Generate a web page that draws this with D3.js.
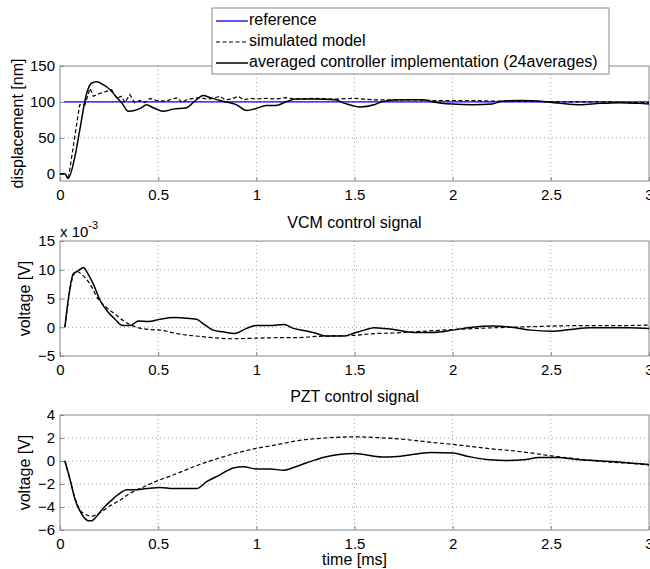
<!DOCTYPE html>
<html>
<head>
<meta charset="utf-8">
<script src="https://cdn.jsdelivr.net/npm/d3@7"></script>
<style>
  body { margin: 0; background: #fff; }
  text { font-family: "Liberation Sans", Arial, sans-serif; fill: #000; }
</style>
</head>
<body>
<div id="my_dataviz"></div>
<script>
// data, time in ms
const timeTicks = [0, 0.5, 1, 1.5, 2, 2.5, 3];
const dispTicks = [0, 50, 100, 150];
const vcmTicks = [-5, 0, 5, 10, 15];
const pztTicks = [-6, -4, -2, 0, 2, 4];

const legendLabels = ["reference", "simulated model", "averaged controller implementation (24averages)"];

const dispRef = [[0.02, 100], [3, 100]];
const dispSim = [[0, 0], [0.025, 0], [0.042, -8], [0.1, 96], [0.127, 96], [0.153, 119], [0.17, 108],
  [0.204, 112], [0.263, 117], [0.29, 105], [0.314, 108], [0.33, 99], [0.356, 110], [0.38, 99],
  [0.407, 102], [0.433, 99], [0.458, 105], [0.49, 102], [0.535, 101], [0.586, 105], [0.6, 106],
  [0.62, 99], [0.645, 103], [0.68, 105], [0.713, 106], [0.747, 104], [0.78, 105], [0.815, 108],
  [0.84, 103], [0.874, 104], [0.908, 108], [0.934, 103], [0.97, 105], [1.0, 104], [1.05, 105],
  [1.1, 104], [1.15, 106], [1.2, 104], [1.3, 105], [1.4, 104], [1.5, 105], [1.55, 104], [1.6, 103],
  [1.7, 103], [1.8, 103], [1.9, 102], [2.0, 102], [2.1, 102], [2.2, 101], [2.3, 101], [2.4, 101],
  [2.5, 100], [2.6, 100], [2.7, 100], [2.8, 100], [2.9, 99], [3.0, 99]];
const dispMeas = [[0, 0], [0.025, 0], [0.042, -6], [0.076, 24], [0.1, 60], [0.136, 112], [0.16, 126],
  [0.187, 128], [0.22, 124], [0.255, 117], [0.29, 106], [0.314, 99], [0.348, 87], [0.38, 88],
  [0.416, 92], [0.44, 96], [0.475, 92], [0.526, 87], [0.577, 90], [0.645, 92], [0.69, 102],
  [0.73, 109], [0.764, 106], [0.83, 101], [0.9, 96], [0.95, 88], [1.0, 91], [1.05, 95], [1.1, 95],
  [1.15, 100], [1.2, 104], [1.3, 104], [1.4, 103], [1.45, 98], [1.53, 93], [1.6, 96], [1.65, 101],
  [1.75, 103], [1.85, 103], [1.9, 100], [2.0, 97], [2.1, 96], [2.2, 97], [2.25, 101], [2.35, 102],
  [2.45, 101], [2.55, 98], [2.65, 96], [2.75, 98], [2.85, 99], [2.95, 98], [3.0, 97]];

// VCM signal, units of 1e-3 V
const vcmSim = [[0.025, 0], [0.068, 9], [0.085, 9.7], [0.11, 9.2], [0.153, 7.5], [0.195, 4.9],
  [0.238, 3.4], [0.28, 2.3], [0.32, 1.2], [0.39, 0], [0.46, -0.4], [0.51, -0.5], [0.594, -1.1],
  [0.713, -1.6], [0.88, -2.0], [1.0, -1.9], [1.14, -1.8], [1.22, -1.8], [1.3, -1.6], [1.4, -1.5],
  [1.5, -1.4], [1.6, -1.1], [1.7, -1.0], [1.8, -0.8], [1.9, -0.6], [2.0, -0.4], [2.2, -0.1],
  [2.4, 0.1], [2.5, 0.2], [2.7, 0.3], [2.9, 0.3], [3.0, 0.4]];
const vcmMeas = [[0.025, 0], [0.068, 9.3], [0.093, 9.8], [0.119, 10.4], [0.144, 9.2], [0.17, 7.5],
  [0.204, 4.7], [0.238, 2.9], [0.28, 1.4], [0.32, 0.3], [0.357, 0.3], [0.4, 1.1], [0.45, 1.0],
  [0.51, 1.4], [0.577, 1.7], [0.628, 1.6], [0.696, 1.4], [0.73, 0.6], [0.78, -0.5], [0.83, -0.8],
  [0.89, -1.1], [0.95, -0.2], [1.0, 0.3], [1.07, 0.3], [1.14, 0.5], [1.19, -0.2], [1.25, -0.6],
  [1.3, -1.0], [1.35, -1.5], [1.45, -1.5], [1.5, -1.0], [1.55, -0.5], [1.6, -0.1], [1.65, -0.2],
  [1.7, -0.4], [1.8, -0.9], [1.9, -0.9], [2.0, -0.5], [2.1, 0.0], [2.2, 0.2], [2.3, 0.0],
  [2.4, -0.5], [2.5, -0.7], [2.6, -0.4], [2.7, -0.1], [2.8, -0.1], [2.9, -0.1], [3.0, -0.2]];

const pztSim = [[0.025, 0], [0.051, -1.6], [0.076, -3.2], [0.1, -4.2], [0.136, -4.7], [0.16, -4.8],
  [0.204, -4.5], [0.255, -3.9], [0.306, -3.4], [0.357, -2.8], [0.407, -2.4], [0.5, -1.7],
  [0.594, -1.1], [0.696, -0.4], [0.8, 0.2], [0.9, 0.7], [1.0, 1.1], [1.1, 1.4], [1.22, 1.8],
  [1.35, 2.0], [1.5, 2.1], [1.6, 2.05], [1.7, 1.95], [1.8, 1.8], [1.9, 1.6], [2.0, 1.45],
  [2.1, 1.25], [2.2, 1.05], [2.3, 0.9], [2.4, 0.7], [2.5, 0.45], [2.6, 0.25], [2.7, 0.05],
  [2.8, -0.1], [2.9, -0.2], [3.0, -0.35]];
const pztMeas = [[0.025, 0], [0.051, -1.6], [0.076, -3.3], [0.1, -4.3], [0.127, -5.0], [0.144, -5.2],
  [0.16, -5.2], [0.187, -4.8], [0.22, -4.1], [0.263, -3.4], [0.306, -2.8], [0.34, -2.5],
  [0.39, -2.5], [0.44, -2.4], [0.51, -2.3], [0.577, -2.4], [0.628, -2.4], [0.696, -2.4],
  [0.747, -1.8], [0.815, -1.2], [0.883, -0.6], [0.934, -0.5], [1.0, -0.7], [1.07, -0.7],
  [1.14, -0.8], [1.2, -0.5], [1.25, -0.2], [1.34, 0.3], [1.5, 0.65], [1.64, 0.35], [1.72, 0.4],
  [1.89, 0.75], [2.0, 0.7], [2.08, 0.4], [2.19, 0.1], [2.27, 0.05], [2.36, 0.1], [2.44, 0.3],
  [2.53, 0.3], [2.65, 0.1], [2.76, 0.0], [2.86, -0.1], [3.0, -0.3]];

const W = 650, H = 569;
const left = 60, right = 649;

const svg = d3.select("#my_dataviz")
    .append("svg")
    .attr("width", W)
    .attr("height", H);

const x = d3.scaleLinear().domain([0, 3]).range([left, right]);

const panels = [
  { top: 66, bottom: 181, domain: [-10, 150], ticks: dispTicks, ylabel: "displacement [nm]", labelX: 19,
    series: [{ d: dispRef, color: "#0000ff", dash: null, w: 1.3, curve: d3.curveLinear },
             { d: dispSim, color: "#000", dash: "4,2.5", w: 1.2, curve: d3.curveLinear },
             { d: dispMeas, color: "#000", dash: null, w: 1.5, curve: d3.curveMonotoneX }] },
  { top: 241, bottom: 356, domain: [-5, 15], ticks: vcmTicks, ylabel: "voltage [V]", labelX: 26,
    title: "VCM control signal",
    series: [{ d: vcmSim, color: "#000", dash: "4,2.5", w: 1.2, curve: d3.curveMonotoneX },
             { d: vcmMeas, color: "#000", dash: null, w: 1.5, curve: d3.curveMonotoneX }] },
  { top: 415, bottom: 530, domain: [-6, 4], ticks: pztTicks, ylabel: "voltage [V]", labelX: 26,
    title: "PZT control signal",
    series: [{ d: pztSim, color: "#000", dash: "4,2.5", w: 1.2, curve: d3.curveMonotoneX },
             { d: pztMeas, color: "#000", dash: null, w: 1.5, curve: d3.curveMonotoneX }] }
];

panels.forEach(function (p, i) {
  const y = d3.scaleLinear().domain(p.domain).range([p.bottom, p.top]);
  const g = svg.append("g");

  // grid
  g.append("g")
    .selectAll("line")
    .data(timeTicks.slice(1, -1))
    .join("line")
    .attr("x1", d => x(d)).attr("x2", d => x(d))
    .attr("y1", p.top).attr("y2", p.bottom)
    .attr("stroke", "#a0a0a0").attr("stroke-dasharray", "1,3");
  g.append("g")
    .selectAll("line")
    .data(p.ticks.slice(1, -1))
    .join("line")
    .attr("x1", left).attr("x2", right)
    .attr("y1", d => y(d)).attr("y2", d => y(d))
    .attr("stroke", "#a0a0a0").attr("stroke-dasharray", "1,3");

  // axes with inward ticks
  const xa = g.append("g")
    .attr("transform", `translate(0, ${p.bottom})`)
    .call(d3.axisBottom(x).tickValues(timeTicks).tickSize(-4).tickPadding(8).tickFormat(d3.format("")));
  const ya = g.append("g")
    .attr("transform", `translate(${left}, 0)`)
    .call(d3.axisLeft(y).tickValues(p.ticks).tickSize(-4).tickPadding(5));
  [xa, ya].forEach(a => {
    a.select(".domain").remove();
    a.selectAll("line").attr("stroke", "#888");
    a.selectAll("text").style("font-size", "15px").attr("fill", "#000");
  });

  // box
  g.append("rect")
    .attr("x", left).attr("y", p.top)
    .attr("width", right - left).attr("height", p.bottom - p.top)
    .attr("fill", "none").attr("stroke", "#888").attr("stroke-width", 1);

  // lines
  const clipId = "clip" + i;
  svg.append("clipPath").attr("id", clipId)
    .append("rect").attr("x", left).attr("y", p.top)
    .attr("width", right - left).attr("height", p.bottom - p.top);

  p.series.forEach(function (s) {
    g.append("path")
      .datum(s.d)
      .attr("clip-path", `url(#${clipId})`)
      .attr("fill", "none")
      .attr("stroke", s.color)
      .attr("stroke-width", s.w)
      .attr("stroke-dasharray", s.dash)
      .attr("d", d3.line().curve(s.curve).x(d => x(d[0])).y(d => y(d[1])));
  });

  // y label
  g.append("text")
    .attr("transform", `translate(${p.labelX}, ${(p.top + p.bottom) / 2}) rotate(-90)`)
    .attr("text-anchor", "middle")
    .attr("dominant-baseline", "middle")
    .style("font-size", "16px")
    .text(p.ylabel);

  if (p.title) {
    g.append("text")
      .attr("x", (left + right) / 2).attr("y", p.top - 13)
      .attr("text-anchor", "middle")
      .style("font-size", "16px")
      .text(p.title);
  }
});

// exponent above the VCM panel
const expo = svg.append("text").attr("x", 60).attr("y", 237).style("font-size", "15px");
expo.append("tspan").text("x 10");
expo.append("tspan").attr("dy", -8).style("font-size", "11px").text("-3");

// x label
svg.append("text")
  .attr("x", (left + right) / 2).attr("y", 565)
  .attr("text-anchor", "middle")
  .style("font-size", "16px")
  .text("time [ms]");

// legend
const lg = svg.append("g");
lg.append("rect")
  .attr("x", 212).attr("y", 8).attr("width", 397).attr("height", 66)
  .attr("fill", "#fff").attr("stroke", "#888");
const legStyles = [{ color: "#0000ff", dash: null, w: 1.3 }, { color: "#000", dash: "4,2.5", w: 1.2 }, { color: "#000", dash: null, w: 1.5 }];
legendLabels.forEach(function (l, i) {
  const yy = 21 + i * 21;
  lg.append("line")
    .attr("x1", 216).attr("x2", 248).attr("y1", yy).attr("y2", yy)
    .attr("stroke", legStyles[i].color).attr("stroke-width", legStyles[i].w)
    .attr("stroke-dasharray", legStyles[i].dash);
  lg.append("text")
    .attr("x", 249).attr("y", yy)
    .attr("dominant-baseline", "middle")
    .style("font-size", "16px")
    .text(l);
});
</script>
</body>
</html>
